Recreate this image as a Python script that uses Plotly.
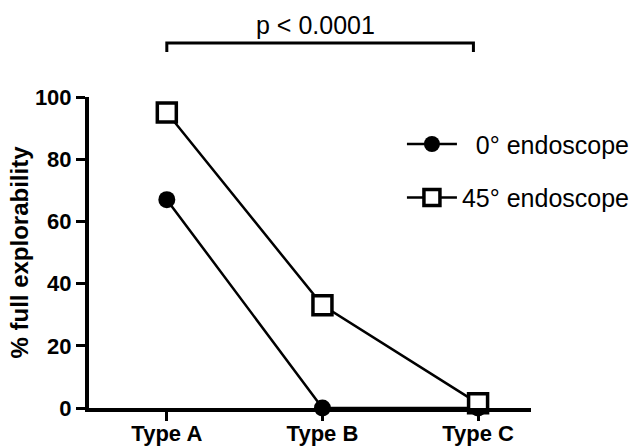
import plotly.graph_objects as go

categories = ["Type A", "Type B", "Type C"]
series_0deg = [67, 0, 0]
series_45deg = [95, 33, 1.5]
y_ticks = [0, 20, 40, 60, 80, 100]
p_label = "p < 0.0001"

FONT = "Liberation Sans, Arial, sans-serif"

fig = go.Figure()
fig.add_trace(go.Scatter(
    x=categories, y=series_0deg, mode="lines+markers",
    name="\u20070° endoscope", legendgroup="a",
    line=dict(color="black", width=2.5),
    marker=dict(symbol="circle", size=17, color="black"),
    cliponaxis=False,
))
fig.add_trace(go.Scatter(
    x=categories, y=series_45deg, mode="lines+markers",
    name="45° endoscope", legendgroup="b",
    line=dict(color="black", width=2.5),
    marker=dict(symbol="square", size=19, color="white",
                line=dict(color="black", width=3.5)),
    cliponaxis=False,
))

# significance bracket
fig.add_shape(type="path", xref="x", yref="paper",
              path="M 0,1.145 L 0,1.174 L 1.97,1.174 L 1.97,1.145",
              line=dict(color="black", width=3))
fig.add_annotation(x=0.956, y=1.284, xref="x", yref="paper", text=p_label,
                   showarrow=False, font=dict(family=FONT, size=25, color="black"))

fig.update_layout(
    width=633, height=446,
    margin=dict(l=89, r=102, t=97, b=38, autoexpand=False),
    plot_bgcolor="white", paper_bgcolor="white",
    font=dict(family=FONT, color="black"),
    showlegend=True,
    legend=dict(x=0.708, y=0.922, xanchor="left", yanchor="top",
                font=dict(family=FONT, size=25, color="black"),
                traceorder="grouped", tracegroupgap=18,
                bgcolor="rgba(0,0,0,0)", itemwidth=50),
    xaxis=dict(type="category", range=[-0.5, 2.34], automargin=False,
               showline=True, linecolor="black", linewidth=4,
               ticks="outside", ticklen=9, tickwidth=3, tickcolor="black",
               ticklabelstandoff=-6,
               tickfont=dict(family=FONT, size=22, weight="bold"),
               showgrid=False, zeroline=False),
    yaxis=dict(range=[0, 100], tickvals=y_ticks, automargin=False,
               showline=True, linecolor="black", linewidth=4,
               ticks="outside", ticklen=9, tickwidth=3, tickcolor="black",
               tickfont=dict(family=FONT, size=22, weight="bold"),
               showgrid=False, zeroline=False,
               title=dict(text="% full explorability", standoff=0,
                          font=dict(family=FONT, size=24, weight="bold"))),
)

# remove the browser's default 8px body margin so the figure sits at (0, 0)
fig.write_html("out.html", config={"displayModeBar": False},
               post_script="document.body.style.margin='0';")
